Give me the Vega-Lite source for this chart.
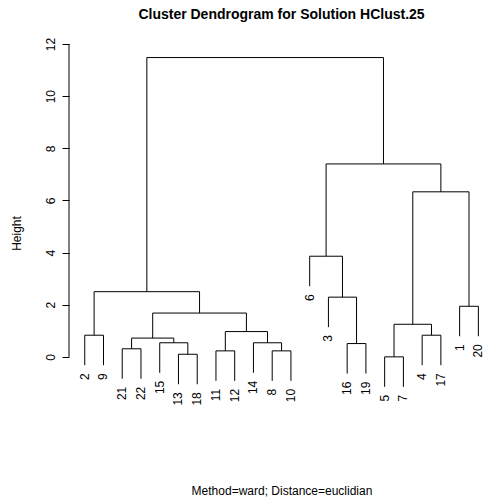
{
  "$schema": "https://vega.github.io/schema/vega-lite/v6.json",
  "width": 415,
  "height": 365,
  "autosize": {"type": "none"},
  "padding": {"left": 69, "top": 44, "right": 0, "bottom": 93},
  "title": {"text": "Cluster Dendrogram for Solution HClust.25", "font": "Liberation Sans", "fontSize": 14, "fontWeight": "bold", "color": "black", "anchor": "middle", "frame": "group", "dx": 5, "offset": 4, "baseline": "alphabetic"},
  "config": {"view": {"stroke": null}, "font": "Liberation Sans"},
  "datasets": {
    "merges": [
      {"m": "A", "o": 1, "x": 1, "y": -0.32}, {"m": "A", "o": 2, "x": 1, "y": 0.83}, {"m": "A", "o": 3, "x": 2, "y": 0.83}, {"m": "A", "o": 4, "x": 2, "y": -0.32},
      {"m": "B", "o": 1, "x": 3, "y": -0.84}, {"m": "B", "o": 2, "x": 3, "y": 0.31}, {"m": "B", "o": 3, "x": 4, "y": 0.31}, {"m": "B", "o": 4, "x": 4, "y": -0.84},
      {"m": "C", "o": 1, "x": 6, "y": -1.05}, {"m": "C", "o": 2, "x": 6, "y": 0.10}, {"m": "C", "o": 3, "x": 7, "y": 0.10}, {"m": "C", "o": 4, "x": 7, "y": -1.05},
      {"m": "D", "o": 1, "x": 5, "y": -0.61}, {"m": "D", "o": 2, "x": 5, "y": 0.54}, {"m": "D", "o": 3, "x": 6.5, "y": 0.54}, {"m": "D", "o": 4, "x": 6.5, "y": 0.10},
      {"m": "E", "o": 1, "x": 3.5, "y": 0.31}, {"m": "E", "o": 2, "x": 3.5, "y": 0.72}, {"m": "E", "o": 3, "x": 5.75, "y": 0.72}, {"m": "E", "o": 4, "x": 5.75, "y": 0.54},
      {"m": "F", "o": 1, "x": 8, "y": -0.92}, {"m": "F", "o": 2, "x": 8, "y": 0.23}, {"m": "F", "o": 3, "x": 9, "y": 0.23}, {"m": "F", "o": 4, "x": 9, "y": -0.92},
      {"m": "G", "o": 1, "x": 11, "y": -0.92}, {"m": "G", "o": 2, "x": 11, "y": 0.23}, {"m": "G", "o": 3, "x": 12, "y": 0.23}, {"m": "G", "o": 4, "x": 12, "y": -0.92},
      {"m": "H", "o": 1, "x": 10, "y": -0.61}, {"m": "H", "o": 2, "x": 10, "y": 0.54}, {"m": "H", "o": 3, "x": 11.5, "y": 0.54}, {"m": "H", "o": 4, "x": 11.5, "y": 0.23},
      {"m": "I", "o": 1, "x": 8.5, "y": 0.23}, {"m": "I", "o": 2, "x": 8.5, "y": 0.97}, {"m": "I", "o": 3, "x": 10.75, "y": 0.97}, {"m": "I", "o": 4, "x": 10.75, "y": 0.54},
      {"m": "J", "o": 1, "x": 4.625, "y": 0.72}, {"m": "J", "o": 2, "x": 4.625, "y": 1.68}, {"m": "J", "o": 3, "x": 9.625, "y": 1.68}, {"m": "J", "o": 4, "x": 9.625, "y": 0.97},
      {"m": "K", "o": 1, "x": 1.5, "y": 0.83}, {"m": "K", "o": 2, "x": 1.5, "y": 2.50}, {"m": "K", "o": 3, "x": 7.125, "y": 2.50}, {"m": "K", "o": 4, "x": 7.125, "y": 1.68},
      {"m": "L", "o": 1, "x": 15, "y": -0.64}, {"m": "L", "o": 2, "x": 15, "y": 0.51}, {"m": "L", "o": 3, "x": 16, "y": 0.51}, {"m": "L", "o": 4, "x": 16, "y": -0.64},
      {"m": "M", "o": 1, "x": 14, "y": 1.14}, {"m": "M", "o": 2, "x": 14, "y": 2.29}, {"m": "M", "o": 3, "x": 15.5, "y": 2.29}, {"m": "M", "o": 4, "x": 15.5, "y": 0.51},
      {"m": "N", "o": 1, "x": 13, "y": 2.71}, {"m": "N", "o": 2, "x": 13, "y": 3.86}, {"m": "N", "o": 3, "x": 14.75, "y": 3.86}, {"m": "N", "o": 4, "x": 14.75, "y": 2.29},
      {"m": "O", "o": 1, "x": 17, "y": -1.15}, {"m": "O", "o": 2, "x": 17, "y": 0.0}, {"m": "O", "o": 3, "x": 18, "y": 0.0}, {"m": "O", "o": 4, "x": 18, "y": -1.15},
      {"m": "P", "o": 1, "x": 19, "y": -0.32}, {"m": "P", "o": 2, "x": 19, "y": 0.83}, {"m": "P", "o": 3, "x": 20, "y": 0.83}, {"m": "P", "o": 4, "x": 20, "y": -0.32},
      {"m": "Q", "o": 1, "x": 17.5, "y": 0.0}, {"m": "Q", "o": 2, "x": 17.5, "y": 1.25}, {"m": "Q", "o": 3, "x": 19.5, "y": 1.25}, {"m": "Q", "o": 4, "x": 19.5, "y": 0.83},
      {"m": "R", "o": 1, "x": 21, "y": 0.79}, {"m": "R", "o": 2, "x": 21, "y": 1.94}, {"m": "R", "o": 3, "x": 22, "y": 1.94}, {"m": "R", "o": 4, "x": 22, "y": 0.79},
      {"m": "S", "o": 1, "x": 18.5, "y": 1.25}, {"m": "S", "o": 2, "x": 18.5, "y": 6.33}, {"m": "S", "o": 3, "x": 21.5, "y": 6.33}, {"m": "S", "o": 4, "x": 21.5, "y": 1.94},
      {"m": "T", "o": 1, "x": 13.875, "y": 3.86}, {"m": "T", "o": 2, "x": 13.875, "y": 7.40}, {"m": "T", "o": 3, "x": 20, "y": 7.40}, {"m": "T", "o": 4, "x": 20, "y": 6.33},
      {"m": "U", "o": 1, "x": 4.3125, "y": 2.50}, {"m": "U", "o": 2, "x": 4.3125, "y": 11.48}, {"m": "U", "o": 3, "x": 16.9375, "y": 11.48}, {"m": "U", "o": 4, "x": 16.9375, "y": 7.40}
    ],
    "leaves": [
      {"label": "2", "x": 1, "y": -0.32}, {"label": "9", "x": 2, "y": -0.32},
      {"label": "21", "x": 3, "y": -0.84}, {"label": "22", "x": 4, "y": -0.84},
      {"label": "15", "x": 5, "y": -0.61}, {"label": "13", "x": 6, "y": -1.05},
      {"label": "18", "x": 7, "y": -1.05}, {"label": "11", "x": 8, "y": -0.92},
      {"label": "12", "x": 9, "y": -0.92}, {"label": "14", "x": 10, "y": -0.61},
      {"label": "8", "x": 11, "y": -0.92}, {"label": "10", "x": 12, "y": -0.92},
      {"label": "6", "x": 13, "y": 2.71}, {"label": "3", "x": 14, "y": 1.14},
      {"label": "16", "x": 15, "y": -0.64}, {"label": "19", "x": 16, "y": -0.64},
      {"label": "5", "x": 17, "y": -1.15}, {"label": "7", "x": 18, "y": -1.15},
      {"label": "4", "x": 19, "y": -0.32}, {"label": "17", "x": 20, "y": -0.32},
      {"label": "1", "x": 21, "y": 0.79}, {"label": "20", "x": 22, "y": 0.79}
    ],
    "axisline": [{"y": 0, "y2": 12}]
  },
  "layer": [
    {
      "data": {"name": "merges"},
      "mark": {"type": "line", "color": "black", "strokeWidth": 1, "interpolate": "linear"},
      "encoding": {
        "x": {"field": "x", "type": "quantitative", "scale": {"domain": [0.16, 22.3], "nice": false, "zero": false},
          "axis": {"labels": false, "ticks": false, "domain": false, "grid": false, "title": "Method=ward; Distance=euclidian", "titleFont": "Liberation Sans", "titleFontSize": 12, "titleFontWeight": "normal", "titleColor": "black", "titleX": 212.5, "titleY": 85, "titleBaseline": "alphabetic", "titleAlign": "center", "titleAnchor": null}},
        "y": {"field": "y", "type": "quantitative", "scale": {"domain": [-2, 12], "nice": false, "zero": false},
          "axis": {"values": [0, 2, 4, 6, 8, 10, 12], "domain": false, "grid": false, "tickSize": 7, "tickColor": "black", "labelAngle": 270, "labelAlign": "center", "labelBaseline": "alphabetic", "labelPadding": 8, "labelFont": "Liberation Sans", "labelFontSize": 12, "labelColor": "black", "labelFlush": false, "labelOverlap": false, "format": "d", "title": "Height", "titleFont": "Liberation Sans", "titleFontSize": 12, "titleFontWeight": "normal", "titleColor": "black", "titleAngle": 270, "titleX": -48.5, "titleY": 189, "titleAlign": "center", "titleBaseline": "alphabetic"}},
        "detail": {"field": "m", "type": "nominal"},
        "order": {"field": "o", "type": "quantitative"}
      }
    },
    {
      "data": {"name": "leaves"},
      "mark": {"type": "text", "angle": 270, "align": "right", "baseline": "middle", "dx": -8, "font": "Liberation Sans", "fontSize": 12, "color": "black"},
      "encoding": {
        "x": {"field": "x", "type": "quantitative"},
        "y": {"field": "y", "type": "quantitative"},
        "text": {"field": "label", "type": "nominal"}
      }
    },
    {
      "data": {"name": "axisline"},
      "mark": {"type": "rule", "color": "black", "strokeWidth": 1},
      "encoding": {
        "x": {"datum": 0.16, "type": "quantitative"},
        "y": {"field": "y", "type": "quantitative"},
        "y2": {"field": "y2"}
      }
    }
  ]
}
